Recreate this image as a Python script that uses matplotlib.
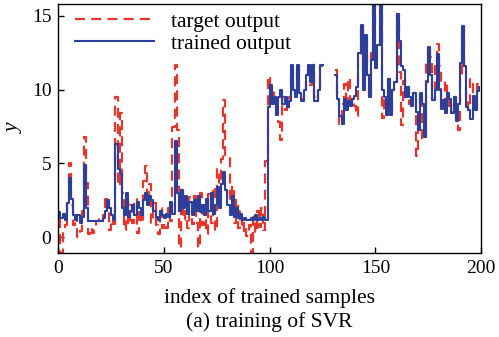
import numpy as np
import matplotlib.pyplot as plt

nan = np.nan

# target output of the training samples
target = [
    1.2, -1.07, 0.5, 0.8, 2.6, 5.0, 2.2, 0.8, 1.5, 0.0,
    0.4, 1.8, 6.8, 3.7, 0.2, 0.6, 0.3, 0.5, 1.1, 1.3,
    1.1, 1.5, 2.8, 1.8, 0.5, 1.2, 0.9, 9.5, 3.5, 8.4,
    3.0, 0.5, 2.6, 0.8, 2.2, 1.0, 2.6, 0.3, 1.9, 1.0,
    3.8, 4.8, 2.4, 3.6, 1.0, 2.3, 0.8, 0.2, 2.0, 0.6,
    1.0, 0.6, 2.0, 1.1, 7.5, 11.7, 7.3, -0.7, 3.4, 1.2,
    2.2, 0.6, 2.7, 0.9, 2.8, 1.0, -0.7, 3.0, 0.8, 2.4,
    0.2, 2.9, 1.0, 3.4, 0.4, 4.6, 2.5, 5.3, 9.3, 5.6,
    5.5, 2.5, 3.5, 1.0, 2.5, 0.6, 1.8, 0.4, 1.0, 0.1,
    0.8, -1.07, 1.4, 0.3, 1.8, 0.7, 2.0, 0.5, 5.2, 10.9,
    9.5, 10.0, 9.2, 8.5, 7.8, 6.6, 9.5, 8.6, 8.8, 9.5,
    11.0, 10.0, 9.8, 11.7, 9.8, 9.4, 10.0, 11.0, 11.7, 10.3,
    11.7, 9.5, 9.2, 10.2, 11.6, nan, nan, nan, nan, nan,
    nan, 11.3, 9.8, 7.7, 9.0, 10.4, 9.4, 10.8, 9.2, 9.4,
    8.9, 8.2, 12.3, 14.4, 11.0, 13.7, 11.0, 9.5, 12.5, 16.5,
    12.5, 13.0, 16.5, 8.1, 9.5, 8.3, 10.7, 8.3, 10.0, 10.5,
    15.1, 11.2, 7.6, 10.6, 9.5, 10.2, 9.0, 8.9, 9.8, 5.5,
    7.3, 9.8, 6.6, 6.8, 11.8, 12.9, 12.2, 9.3, 11.9, 13.1,
    11.6, 9.0, 9.3, 10.6, 9.8, 8.9, 8.5, 9.5, 8.1, 7.3,
    11.0, 14.3, 11.6, 9.2, 8.6, 10.7, 9.6, 8.6, 10.4, 10.4,
]

# output of the trained SVR
trained = [
    1.7, 1.3, 1.6, 1.2, 2.3, 4.0, 2.6, 1.5, 1.2, 1.5,
    1.0, 1.4, 4.9, 2.0, 1.1, 1.1, 1.1, 1.1, 1.1, 1.1,
    1.1, 1.3, 1.8, 2.5, 2.0, 1.5, 1.2, 6.3, 4.6, 4.3,
    2.0, 1.5, 3.0, 1.4, 1.8, 2.2, 1.5, 2.4, 2.0, 1.5,
    2.5, 3.0, 2.2, 2.8, 2.5, 1.8, 1.4, 1.2, 1.8, 1.5,
    1.3, 1.6, 1.4, 2.4, 1.6, 6.5, 3.0, 1.8, 3.2, 2.0,
    2.8, 1.6, 2.4, 1.5, 2.5, 1.8, 2.8, 1.7, 2.2, 1.5,
    2.6, 1.8, 3.0, 1.6, 2.2, 3.4, 2.0, 3.6, 4.4, 3.2,
    2.2, 1.5, 2.8, 1.4, 2.0, 1.3, 1.6, 1.2, 1.3, 1.2,
    1.2, 1.3, 1.2, 1.5, 1.2, 1.3, 1.2, 1.4, 1.2, 8.8,
    10.3, 9.0, 9.5, 8.3, 9.5, 10.0, 9.0, 9.5, 8.8, 9.2,
    11.7, 10.0, 9.5, 11.7, 9.8, 9.2, 10.0, 11.0, 11.7, 10.5,
    11.7, 9.2, 9.2, 10.0, 11.7, nan, nan, nan, nan, nan,
    nan, 11.0, 9.4, 8.2, 7.7, 9.4, 8.6, 9.2, 8.9, 9.4,
    9.6, 10.2, 12.5, 14.4, 10.0, 13.7, 11.0, 9.5, 12.0, 16.5,
    11.5, 13.0, 16.5, 10.0, 9.5, 8.3, 10.7, 8.3, 10.0, 10.5,
    15.1, 13.3, 11.6, 11.3, 9.5, 10.2, 9.5, 8.9, 9.8, 8.5,
    7.3, 9.8, 9.0, 6.8, 10.5, 12.9, 11.0, 9.3, 10.0, 12.4,
    10.0, 8.7, 9.3, 8.4, 9.8, 9.4, 8.4, 9.5, 7.9, 9.0,
    11.8, 14.3, 11.6, 8.8, 8.6, 8.0, 9.6, 8.6, 9.9, 10.2,
]

xticks = [0, 50, 100, 150, 200]
yticks = [0, 5, 10, 15]

plt.rcParams['font.family'] = ['Liberation Serif', 'DejaVu Serif']
plt.rcParams['font.size'] = 14

fig = plt.figure(figsize=(4.99, 3.37), dpi=100)
ax = fig.add_axes([0.117, 0.249, 0.847, 0.739])

idx = np.arange(len(target))
ax.step(idx, target, where='post', color='#e8352c', lw=1.6,
        dashes=(4.5, 2.8), label='target output')
ax.step(idx, trained, where='post', color='#2b3f9b', lw=1.5,
        label='trained output')

ax.set_xlim(0, 200)
ax.set_ylim(-1.07, 15.8)
ax.set_xticks(xticks)
ax.set_yticks(yticks)
ax.tick_params(direction='in', length=4, width=1, pad=5)
for s in ax.spines.values():
    s.set_linewidth(1.0)

ax.set_xlabel('index of trained samples\n(a) training of SVR', fontsize=15.5,
              labelpad=8, linespacing=1.25)
ax.set_ylabel('y', fontstyle='italic', fontsize=15.5, labelpad=6)

ax.legend(loc='upper left', bbox_to_anchor=(0.0, 1.035), frameon=False,
          fontsize=15.5, handlelength=3.7, handletextpad=0.8,
          borderaxespad=0.45, borderpad=0.3, labelspacing=0.1)

fig.savefig('out.png', dpi=100)
